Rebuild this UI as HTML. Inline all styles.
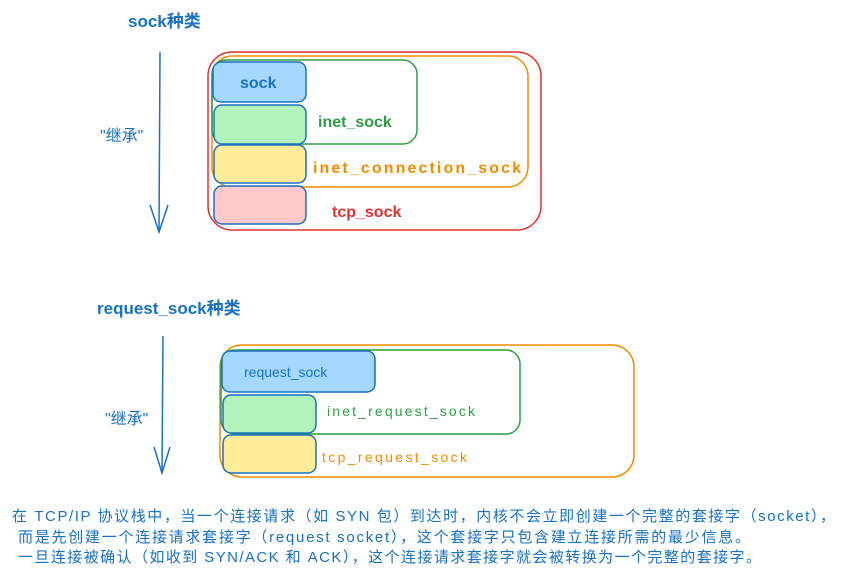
<!DOCTYPE html>
<html><head><meta charset="utf-8"><style>
html,body{margin:0;padding:0;background:#fff;}
svg text{font-family:"Liberation Sans","Noto Sans CJK SC",sans-serif;}
</style></head><body>
<svg width="851" height="577" viewBox="0 0 851 577" xmlns="http://www.w3.org/2000/svg">
<g fill="none" stroke-width="1.5">
<text x="128" y="27" font-size="17" fill="#1971c2" stroke="none" font-weight="bold">sock种类</text>
<line x1="160" y1="52" x2="159" y2="232" stroke="#1971c2"/>
<polyline points="150,205 159,232 168,205" stroke="#1971c2"/>
<text x="100" y="141" font-size="16" fill="#1971c2" stroke="none">"继承"</text>
<rect x="208" y="52" width="333" height="178" rx="24" stroke="#e03131"/>
<rect x="212" y="56" width="316" height="131" rx="20" stroke="#f08c00"/>
<rect x="212" y="60" width="205" height="84" rx="14" stroke="#2f9e44"/>
<rect x="213" y="62" width="93" height="40" rx="8" fill="#a5d8ff" stroke="#1971c2"/>
<rect x="214" y="105" width="92" height="39" rx="8" fill="#b2f2bb" stroke="#1971c2"/>
<rect x="214" y="145" width="92" height="38" rx="8" fill="#ffec99" stroke="#1971c2"/>
<rect x="214" y="186" width="92" height="38" rx="8" fill="#ffc9c9" stroke="#1971c2"/>
<g stroke="none" font-size="16" font-weight="bold">
<text x="240" y="88" fill="#1971c2">sock</text>
<text x="318" y="127" fill="#2f9e44">inet_sock</text>
<text x="313" y="173" fill="#f08c00" textLength="208">inet_connection_sock</text>
<text x="332" y="217" fill="#e03131">tcp_sock</text>
</g>
<text x="97" y="314" font-size="17" fill="#1971c2" stroke="none" font-weight="bold">request_sock种类</text>
<line x1="163" y1="336" x2="162" y2="473" stroke="#1971c2"/>
<polyline points="154,447 162,473 170,447" stroke="#1971c2"/>
<text x="105" y="424" font-size="16" fill="#1971c2" stroke="none">"继承"</text>
<rect x="220" y="345" width="414" height="132" rx="22" stroke="#f08c00"/>
<rect x="221" y="350" width="299" height="84" rx="14" stroke="#2f9e44"/>
<rect x="222" y="351" width="153" height="41" rx="8" fill="#a5d8ff" stroke="#1971c2"/>
<rect x="223" y="395" width="93" height="38" rx="8" fill="#b2f2bb" stroke="#1971c2"/>
<rect x="223" y="435" width="93" height="38" rx="8" fill="#ffec99" stroke="#1971c2"/>
<g stroke="none" font-size="14">
<text x="244" y="377" fill="#1971c2">request_sock</text>
<text x="327" y="416" fill="#2f9e44" textLength="148">inet_request_sock</text>
<text x="322" y="462" fill="#f08c00" textLength="145">tcp_request_sock</text>
</g>
<g stroke="none" font-size="15" fill="#1971c2">
<text x="12" y="521" textLength="823" lengthAdjust="spacing">在 TCP/IP 协议栈中，当一个连接请求（如 SYN 包）到达时，内核不会立即创建一个完整的套接字（socket），</text>
<text x="18" y="542" textLength="732" lengthAdjust="spacing">而是先创建一个连接请求套接字（request socket），这个套接字只包含建立连接所需的最少信息。</text>
<text x="18" y="562" textLength="743" lengthAdjust="spacing">一旦连接被确认（如收到 SYN/ACK 和 ACK），这个连接请求套接字就会被转换为一个完整的套接字。</text>
</g>
</g>
</svg>
</body></html>
